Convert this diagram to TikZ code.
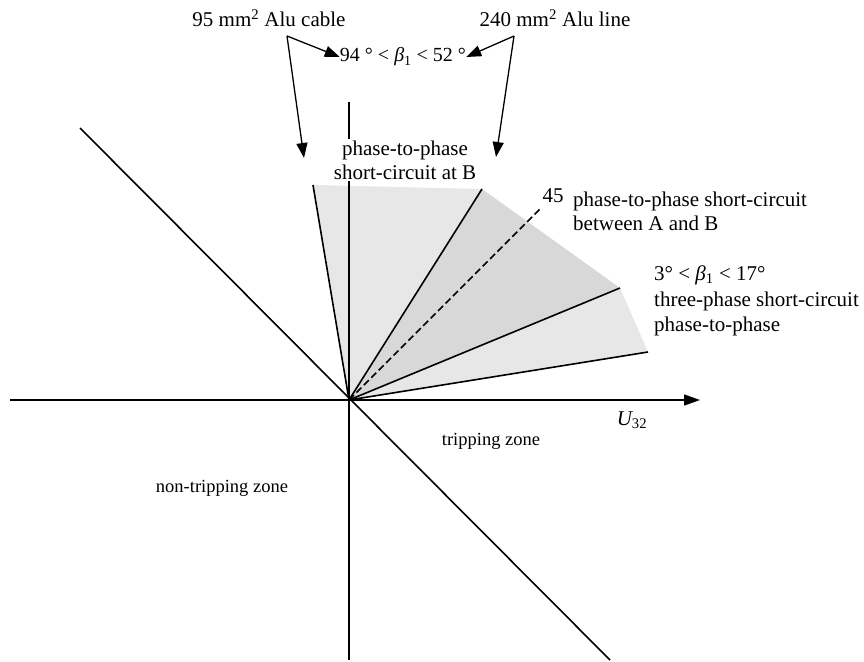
\documentclass[tikz,border=0pt]{standalone}
\usepackage{fontspec}
\setmainfont{Liberation Serif}
\usetikzlibrary{arrows.meta}
\definecolor{lightsec}{RGB}{231,231,231}
\definecolor{darksec}{RGB}{216,216,216}
\newcommand{\bet}{{\itshape β}\textsubscript{1}}
\begin{document}
\begin{tikzpicture}[x=1pt,y=-1pt,
  font=\fontsize{21}{24}\selectfont,
  ln/.style={line width=1.6pt},
  pointer/.style={line width=1.3pt,-{Triangle[length=15pt,width=11pt]}},
  lbl/.style={inner sep=0pt, align=left},
  zone/.style={inner sep=0pt, font=\fontsize{18.5}{22}\selectfont}]
\useasboundingbox (0,0) rectangle (864,661);
% key points
\coordinate (O) at (349,400);
\coordinate (r1) at (313,185);
\coordinate (r2) at (482,189);
\coordinate (r3) at (540,209);
\coordinate (r4) at (620,288);
\coordinate (r5) at (648,352);
% shaded sectors
\fill[lightsec] (O) -- (r1) -- (r2) -- cycle;
\fill[darksec] (O) -- (r2) -- (r4) -- cycle;
\fill[lightsec] (O) -- (r4) -- (r5) -- cycle;
% axes
\coordinate (xl) at (10,400);
\coordinate (xr) at (700,400);
\coordinate (yt) at (349,102);
\coordinate (yb) at (349,660);
\coordinate (dt) at (80,128);
\coordinate (db) at (610,660);
\draw[ln,-{Triangle[length=16pt,width=11pt]}] (xl) -- (xr);
\draw[ln] (yt) -- (yb);
\draw[ln] (dt) -- (db);
% rays
\draw[ln] (O) -- (r1);
\draw[ln] (O) -- (r2);
\draw[ln,dash pattern=on 7pt off 3.5pt] (O) -- (r3);
\draw[ln] (O) -- (r4);
\draw[ln] (O) -- (r5);
% labels
\node[lbl, fill=white, align=center, inner sep=2pt] (Blbl) at (405,160) {phase-to-phase\\short-circuit at B};
\node[lbl] (t95) at (269,18) {95 mm\textsuperscript{2} Alu cable};
\node[lbl] (t240) at (555,18) {240 mm\textsuperscript{2} Alu line};
\node[lbl, font=\fontsize{20}{24}\selectfont] (beta) at (403,57) {94 ° < \bet{} < 52 °};
\node[lbl] (f45) at (553,196) {45};
\node[lbl, anchor=west] (AB) at (573,211) {phase-to-phase short-circuit\\between A and B};
\node[lbl, anchor=west, font=\fontsize{21}{25.5}\selectfont] (three) at (654,301) {3° < \bet{} < 17°\\three-phase short-circuit\\phase-to-phase};
\node[lbl] (U) at (632,420) {{\itshape U}\textsubscript{32}};
\node[zone] (trip) at (491,441) {tripping zone};
\node[zone] (ntrip) at (222,488) {non-tripping zone};
% pointers
\coordinate (aL) at (287,36);
\coordinate (aR) at (514,36);
\coordinate (tL) at (304,158);
\coordinate (tR) at (496,157);
\draw[pointer] (aL) -- (beta.west);
\draw[pointer] (aL) -- (tL);
\draw[pointer] (aR) -- (beta.east);
\draw[pointer] (aR) -- (tR);
\end{tikzpicture}
\end{document}
